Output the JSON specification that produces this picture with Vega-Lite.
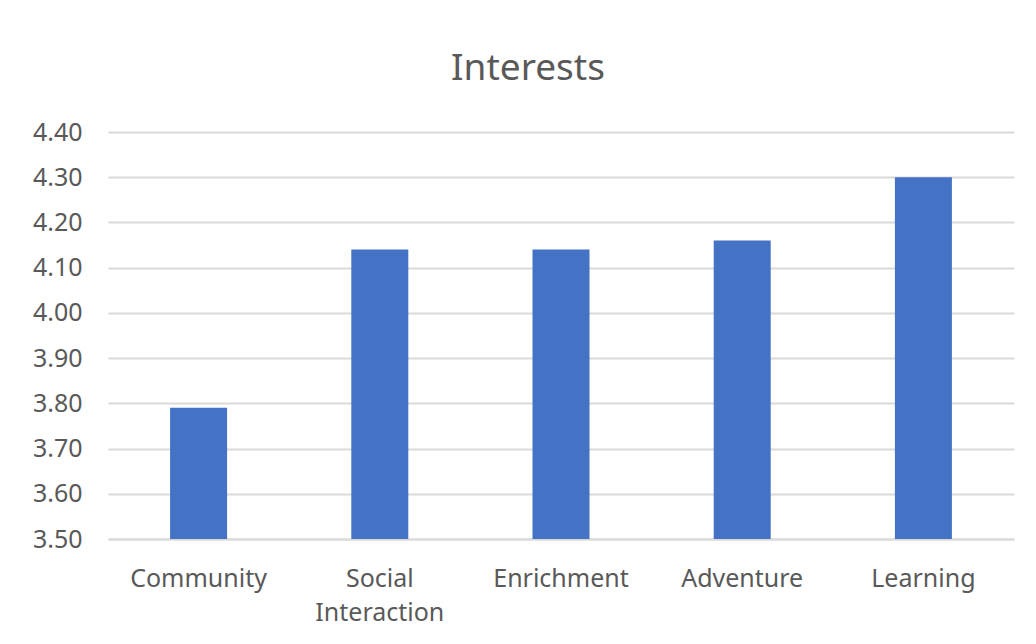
{
  "$schema": "https://vega.github.io/schema/vega-lite/v6.json",
  "autosize": {"type": "none"},
  "width": 906,
  "height": 407,
  "padding": {"left": 108, "top": 132, "right": 22, "bottom": 105},
  "background": "white",
  "title": {
    "text": "Interests",
    "font": "Noto Sans",
    "fontSize": 37,
    "fontWeight": "normal",
    "color": "#595959",
    "anchor": "middle",
    "frame": "group",
    "dx": -33,
    "offset": 32
  },
  "data": {
    "values": [
      {"interest": "Community", "score": 3.79},
      {"interest": "Social Interaction", "score": 4.14},
      {"interest": "Enrichment", "score": 4.14},
      {"interest": "Adventure", "score": 4.16},
      {"interest": "Learning", "score": 4.30}
    ]
  },
  "mark": {"type": "bar", "color": "#4472C4", "width": 57, "clip": true},
  "encoding": {
    "x": {
      "field": "interest",
      "type": "nominal",
      "sort": null,
      "scale": {"paddingInner": 0, "paddingOuter": 0},
      "axis": {
        "title": null,
        "labelAngle": 0,
        "ticks": false,
        "domain": true,
        "domainColor": "#D9D9D9",
        "domainWidth": 2,
        "labelFont": "Noto Sans",
        "labelFontSize": 25,
        "labelColor": "#595959",
        "labelPadding": 27,
        "labelLineHeight": 34,
        "labelExpr": "datum.label == 'Social Interaction' ? ['Social', 'Interaction'] : datum.label"
      }
    },
    "y": {
      "field": "score",
      "type": "quantitative",
      "scale": {"domain": [3.5, 4.4], "zero": false, "nice": false},
      "axis": {
        "title": null,
        "values": [3.5, 3.6, 3.7, 3.8, 3.9, 4.0, 4.1, 4.2, 4.3, 4.4],
        "format": ".2f",
        "ticks": false,
        "domain": false,
        "grid": true,
        "gridColor": "#D9D9D9",
        "gridWidth": 2,
        "labelFont": "Noto Sans",
        "labelFontSize": 25,
        "labelColor": "#595959",
        "labelPadding": 26
      }
    }
  },
  "config": {"view": {"stroke": null}}
}
